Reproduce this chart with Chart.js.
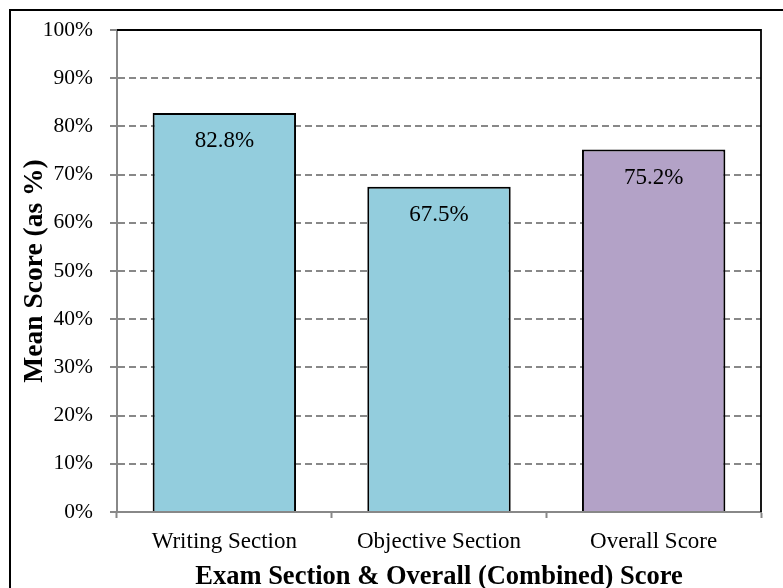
<!DOCTYPE html>
<html>
<head>
<meta charset="utf-8">
<script src="https://cdn.jsdelivr.net/npm/chart.js@4.4.0/dist/chart.umd.min.js"></script>
<style>
  html, body { margin: 0; padding: 0; background: #fff; }
  #wrap { width: 783px; height: 588px; }
</style>
</head>
<body>
<div id="wrap"><canvas id="scoreChart" width="783" height="588"></canvas></div>
<script>
// Mean scores per exam section
const sections = ['Writing Section', 'Objective Section', 'Overall Score'];
const meanScores = [82.8, 67.5, 75.2];
const barColors = ['#93cddd', '#93cddd', '#b3a2c7'];
const yTicks = [0, 10, 20, 30, 40, 50, 60, 70, 80, 90, 100];

const serif = '"Liberation Serif", "Times New Roman", serif';

// Value labels inside the top of each bar
const barLabels = {
  id: 'barLabels',
  afterDatasetsDraw(chart) {
    const ctx = chart.ctx;
    const meta = chart.getDatasetMeta(0);
    ctx.save();
    ctx.font = '23px ' + serif;
    ctx.fillStyle = '#000';
    ctx.textAlign = 'center';
    ctx.textBaseline = 'middle';
    meta.data.forEach((bar, i) => {
      ctx.fillText(meanScores[i].toFixed(1) + '%', bar.x, bar.y + 28);
    });
    ctx.restore();
  }
};

// Black frame on top/right of plot, plus outer border
const frames = {
  id: 'frames',
  afterDraw(chart) {
    const ctx = chart.ctx;
    const a = chart.chartArea;
    ctx.save();
    ctx.strokeStyle = '#000';
    ctx.lineWidth = 1.8;
    ctx.beginPath();
    ctx.moveTo(a.left, a.top);
    ctx.lineTo(a.right, a.top);
    ctx.lineTo(a.right, a.bottom);
    ctx.stroke();

    ctx.lineWidth = 2;
    ctx.beginPath();
    ctx.moveTo(10, chart.height);
    ctx.lineTo(10, 10);
    ctx.lineTo(chart.width, 10);
    ctx.stroke();
    ctx.restore();
  }
};

new Chart(document.getElementById('scoreChart').getContext('2d'), {
  type: 'bar',
  data: {
    labels: sections,
    datasets: [{
      data: meanScores,
      backgroundColor: barColors,
      borderColor: '#000',
      borderWidth: 2,
      categoryPercentage: 1,
      barPercentage: 0.668
    }]
  },
  options: {
    responsive: false,
    animation: false,
    layout: { padding: { left: 0, top: 30, right: 22, bottom: 0 } },
    plugins: {
      legend: { display: false },
      tooltip: { enabled: false }
    },
    scales: {
      x: {
        afterFit(scale) { scale.height = 76; },
        grid: {
          offset: true,
          drawOnChartArea: false,
          color: '#888',
          tickLength: 6,
          tickWidth: 2
        },
        border: { color: '#888', width: 2 },
        ticks: {
          color: '#000',
          padding: 10,
          font: { family: serif, size: 23 }
        },
        title: {
          display: true,
          text: 'Exam Section & Overall (Combined) Score',
          color: '#000',
          padding: 0,
          font: { family: serif, size: 26.5, weight: 'bold', lineHeight: 0.8 }
        }
      },
      y: {
        min: 0,
        max: 100,
        afterFit(scale) { scale.width = 117; },
        afterBuildTicks(scale) { scale.ticks = yTicks.map(v => ({ value: v })); },
        grid: {
          color: '#888',
          lineWidth: 2,
          tickBorderDash: [],
          tickLength: 7
        },
        border: { color: '#888', width: 2, dash: [7, 4] },
        ticks: {
          color: '#000',
          padding: 17,
          font: { family: serif, size: 21.5 },
          callback: v => v + '%'
        },
        title: {
          display: true,
          text: 'Mean Score (as %)',
          color: '#000',
          padding: { top: 24, bottom: 0 },
          font: { family: serif, size: 27.5, weight: 'bold', lineHeight: 0.8 }
        }
      }
    }
  },
  plugins: [barLabels, frames]
});
</script>
</body>
</html>
